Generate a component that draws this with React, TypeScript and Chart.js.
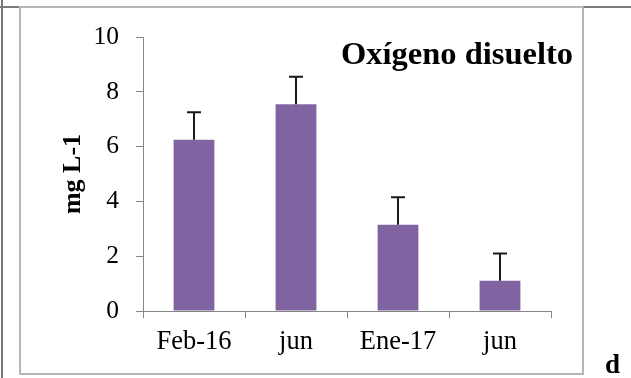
import React, { useEffect, useRef } from "react";
import { Chart, registerables } from "chart.js";

Chart.register(...registerables);

// Sampling campaigns
const categories = ["Feb-16", "jun", "Ene-17", "jun"];
// Mean dissolved oxygen (mg L-1)
const oxygenMeans = [6.25, 7.55, 3.15, 1.1];
// Standard deviation shown as an upper error bar
const oxygenErrors = [1.0, 1.0, 1.0, 1.0];
// Y axis ticks
const yTicks = [0, 2, 4, 6, 8, 10];

const chartTitle = "Oxígeno disuelto";
const yAxisTitle = "mg L-1";
const panelLetter = "d";

const SERIF = '"Liberation Serif", "Times New Roman", serif';
const AXIS_GREY = "#868686";

const decorations = {
  id: "decorations",
  afterDatasetsDraw(chart: any) {
    const { ctx, scales } = chart;
    const y = scales.y;
    const meta = chart.getDatasetMeta(0);

    // upper error bars
    ctx.save();
    ctx.strokeStyle = "#1a1a1a";
    ctx.lineWidth = 2;
    meta.data.forEach((bar: any, i: number) => {
      const top = y.getPixelForValue(oxygenMeans[i] + oxygenErrors[i]);
      const base = y.getPixelForValue(oxygenMeans[i]);
      const cx = Math.round(bar.x);
      ctx.beginPath();
      ctx.moveTo(cx, base);
      ctx.lineTo(cx, top);
      ctx.moveTo(cx - 7, top);
      ctx.lineTo(cx + 7, top);
      ctx.stroke();
    });
    ctx.restore();
  },
  afterDraw(chart: any) {
    const { ctx, chartArea } = chart;
    ctx.save();

    // outer frame lines
    ctx.lineWidth = 2;
    ctx.strokeStyle = "#7a7a7a";
    ctx.beginPath();
    ctx.moveTo(2, 0);
    ctx.lineTo(2, 378);
    ctx.moveTo(0, 7);
    ctx.lineTo(19, 7);
    ctx.moveTo(583, 7);
    ctx.lineTo(631, 7);
    ctx.stroke();

    // chart box
    ctx.strokeStyle = "#b6b6b6";
    ctx.beginPath();
    ctx.moveTo(19, 7);
    ctx.lineTo(583, 7);
    ctx.moveTo(20, 7);
    ctx.lineTo(20, 374);
    ctx.lineTo(583, 374);
    ctx.lineTo(583, 7);
    ctx.stroke();

    // title inside the plot
    ctx.fillStyle = "#000";
    ctx.font = `bold 32.5px ${SERIF}`;
    ctx.textAlign = "left";
    ctx.textBaseline = "alphabetic";
    ctx.fillText(chartTitle, 341, 64);

    // y axis title
    ctx.save();
    ctx.translate(73, (chartArea.top + chartArea.bottom) / 2);
    ctx.rotate(-Math.PI / 2);
    ctx.font = `bold 26px ${SERIF}`;
    ctx.textAlign = "center";
    ctx.textBaseline = "middle";
    ctx.fillText(yAxisTitle, 0, 0);
    ctx.restore();

    // panel letter
    ctx.font = `bold 27px ${SERIF}`;
    ctx.textAlign = "left";
    ctx.textBaseline = "alphabetic";
    ctx.fillText(panelLetter, 605, 373);

    ctx.restore();
  },
};

export default function App() {
  const canvasRef = useRef<HTMLCanvasElement | null>(null);

  useEffect(() => {
    const canvas = canvasRef.current;
    if (!canvas) return;
    const chart = new Chart(canvas, {
      type: "bar",
      data: {
        labels: categories,
        datasets: [
          {
            data: oxygenMeans,
            backgroundColor: "#8064A2",
            borderWidth: 0,
            barPercentage: 1,
            categoryPercentage: 0.4,
          },
        ],
      },
      options: {
        responsive: false,
        animation: false,
        devicePixelRatio: 1,
        layout: { padding: { left: 0, right: 80, top: 37, bottom: 0 } },
        plugins: {
          legend: { display: false },
          title: { display: false },
          tooltip: { enabled: false },
        },
        scales: {
          x: {
            grid: {
              display: true,
              drawOnChartArea: false,
              drawTicks: true,
              tickLength: 7,
              color: AXIS_GREY,
              lineWidth: 1,
            },
            border: { display: true, color: AXIS_GREY, width: 1 },
            ticks: {
              color: "#000",
              font: { family: SERIF, size: 26.5 },
              padding: 8,
              maxRotation: 0,
            },
            afterFit(scale: any) {
              scale.height = 67;
            },
          },
          y: {
            min: 0,
            max: 10,
            afterBuildTicks(scale: any) {
              scale.ticks = yTicks.map((v) => ({ value: v }));
            },
            grid: {
              display: true,
              drawOnChartArea: false,
              drawTicks: true,
              tickLength: 7,
              color: AXIS_GREY,
              lineWidth: 1,
            },
            border: { display: true, color: AXIS_GREY, width: 1 },
            ticks: {
              color: "#000",
              font: { family: SERIF, size: 25.5 },
              padding: 17,
            },
            afterFit(scale: any) {
              scale.width = 143;
            },
          },
        },
      },
      plugins: [decorations],
    });
    return () => chart.destroy();
  }, []);

  return (
    <div style={{ position: "absolute", left: 0, top: 0, width: 631, height: 378, background: "#fff" }}>
      <canvas ref={canvasRef} width={631} height={378} style={{ display: "block" }} />
    </div>
  );
}
